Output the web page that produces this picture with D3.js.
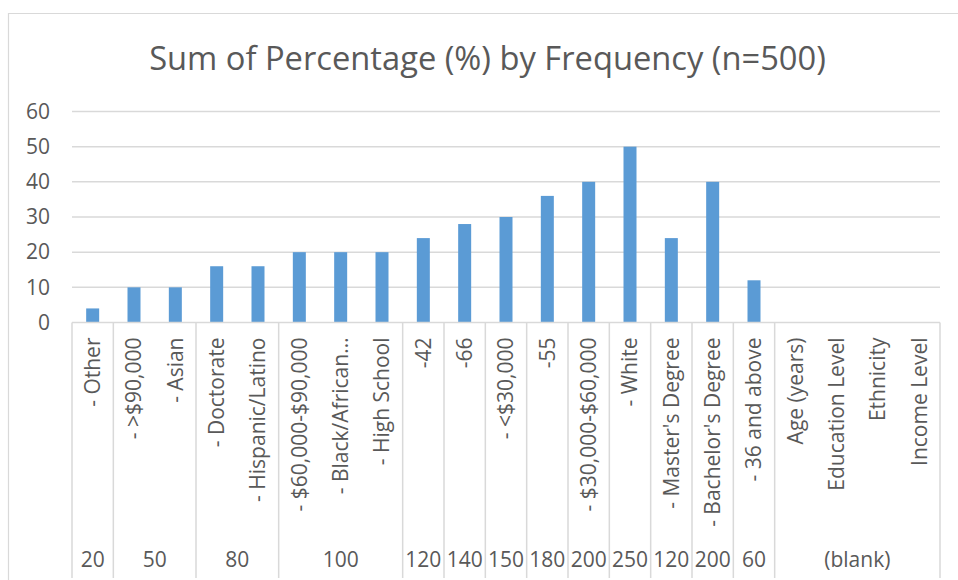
<!DOCTYPE html>
<html>
<head>
<meta charset="utf-8">
<script src="https://cdn.jsdelivr.net/npm/d3@7"></script>
<style>
  html, body { margin: 0; padding: 0; background: #fff; }
  svg { display: block; }
</style>
</head>
<body>
<svg id="chart" width="958" height="580"></svg>
<script>
const chartTitle = "Sum of Percentage (%) by Frequency (n=500)";
const categories = ["- Other", "- >$90,000", "- Asian", "- Doctorate", "- Hispanic/Latino",
  "- $60,000-$90,000", "- Black/African\u2026", "- High School", "-42", "-66", "- <$30,000",
  "-55", "- $30,000-$60,000", "- White", "- Master's Degree", "- Bachelor's Degree",
  "- 36 and above", "Age (years)", "Education Level", "Ethnicity", "Income Level"];
const values = [4, 10, 10, 16, 16, 20, 20, 20, 24, 28, 30, 36, 40, 50, 24, 40, 12, null, null, null, null];
const groupLabels = ["20", "50", "80", "100", "120", "140", "150", "180", "200", "250", "120", "200", "60", "(blank)"];
const groupSizes = [1, 2, 2, 3, 1, 1, 1, 1, 1, 1, 1, 1, 1, 4];
const yTicks = [0, 10, 20, 30, 40, 50, 60];

(function () {
const svg = d3.select("#chart");
const font = "'Open Sans', 'DejaVu Sans', sans-serif";
const textColor = "#595959";
const gridColor = "#d9d9d9";
const barColor = "#5b9bd5";
const fs = 21;

const pLeft = 72, pRight = 940, pTop = 111.5, pBottom = 322.5, axisBottom = 578;

svg.append("path")
  .attr("d", `M8.5,${axisBottom + 10} V13.5 H970`)
  .attr("fill", "none").attr("stroke", gridColor).attr("stroke-width", 1.2);

const t = svg.append("text")
  .attr("x", 487.5).attr("y", 70)
  .attr("text-anchor", "middle")
  .attr("font-family", font).attr("font-size", 32)
  .attr("fill", textColor)
  .text(chartTitle);
const targetW = 677;
const w0 = t.node().getComputedTextLength();
if (w0 > 0) t.attr("font-size", 32 * targetW / w0);

const x = d3.scaleBand().domain(d3.range(categories.length)).range([pLeft, pRight]).paddingInner(0).paddingOuter(0);
const y = d3.scaleLinear().domain([0, 60]).range([pBottom, pTop]);

svg.append("g").selectAll("line").data(yTicks.filter(d => d > 0)).join("line")
  .attr("x1", pLeft).attr("x2", pRight)
  .attr("y1", d => y(d)).attr("y2", d => y(d))
  .attr("stroke", gridColor).attr("stroke-width", 1.5);

const yAxis = d3.axisLeft(y).tickValues(yTicks).tickSize(0).tickPadding(22);
const yg = svg.append("g").attr("transform", `translate(${pLeft},0)`).call(yAxis);
yg.select(".domain").remove();
yg.selectAll("text").attr("font-family", font).attr("font-size", fs).attr("fill", textColor);

const bw = 13;
svg.append("g").selectAll("rect").data(values.map((v, i) => ({ v, i })).filter(d => d.v != null)).join("rect")
  .attr("x", d => x(d.i) + x.bandwidth() / 2 - bw / 2)
  .attr("width", bw)
  .attr("y", d => y(d.v))
  .attr("height", d => y(0) - y(d.v))
  .attr("fill", barColor);

svg.append("line").attr("x1", pLeft).attr("x2", pRight).attr("y1", pBottom).attr("y2", pBottom)
  .attr("stroke", gridColor).attr("stroke-width", 1.5);

const xAxis = d3.axisBottom(x).tickSize(0).tickFormat(i => categories[i]);
const xg = svg.append("g").attr("transform", `translate(0,${pBottom})`).call(xAxis);
xg.select(".domain").remove();
xg.selectAll(".tick text")
  .attr("font-family", font).attr("font-size", fs).attr("fill", textColor)
  .attr("transform", "rotate(-90)")
  .attr("text-anchor", "end")
  .attr("x", -15).attr("y", 0).attr("dy", "0.35em");

const starts = [];
let acc = 0;
groupSizes.forEach(s => { starts.push(acc); acc += s; });
const dividers = [0, ...starts.slice(1), categories.length];
svg.append("g").selectAll("line").data(dividers).join("line")
  .attr("x1", i => i === categories.length ? pRight : x(i))
  .attr("x2", i => i === categories.length ? pRight : x(i))
  .attr("y1", pBottom).attr("y2", axisBottom)
  .attr("stroke", gridColor).attr("stroke-width", 1.5);

svg.append("g").selectAll("text").data(groupLabels.map((g, k) => ({ g, k }))).join("text")
  .attr("x", d => {
    const s = starts[d.k], e = s + groupSizes[d.k];
    const x0 = x(s), x1 = e === categories.length ? pRight : x(e);
    return (x0 + x1) / 2;
  })
  .attr("y", 567)
  .attr("text-anchor", "middle")
  .attr("font-family", font).attr("font-size", fs).attr("fill", textColor)
  .text(d => d.g);
})();
</script>
</body>
</html>
